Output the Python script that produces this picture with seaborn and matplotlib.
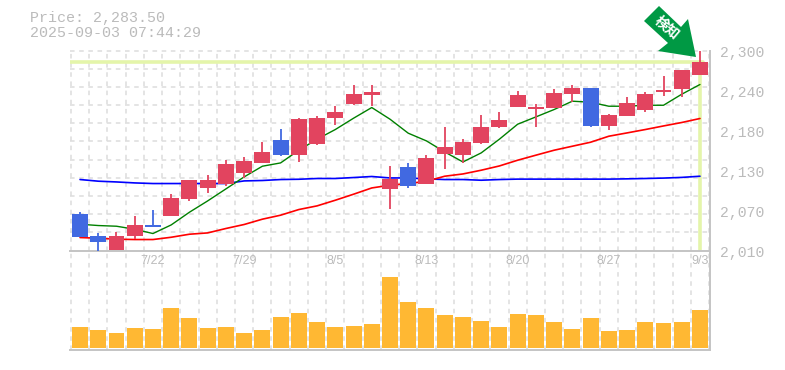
import numpy as np
import pandas as pd
import seaborn as sns
import matplotlib
matplotlib.use("Agg")
import matplotlib.pyplot as plt
from matplotlib.patches import Polygon

# candles
opens = [2062.6, 2030.7, 2010.4, 2030.7, 2046.7, 2059.7, 2084.4, 2100.3, 2106.1, 2122.1, 2136.5, 2169.9,
         2148.2, 2164.1, 2201.8, 2222.1, 2235.2, 2098.9, 2130.7, 2106.1, 2149.6, 2148.2, 2165.6, 2188.8,
         2217.8, 2214.9, 2216.3, 2236.6, 2245.3, 2190.2, 2204.7, 2213.4, 2239.5, 2243.9, 2264.2]
closes = [2029.2, 2022.0, 2030.7, 2046.7, 2043.8, 2085.8, 2111.9, 2111.9, 2135.1, 2139.4, 2152.5, 2148.2,
          2200.4, 2201.8, 2210.5, 2236.6, 2239.5, 2113.4, 2103.2, 2143.8, 2159.7, 2167.0, 2188.8, 2198.9,
          2235.2, 2217.8, 2238.0, 2245.3, 2190.2, 2206.2, 2223.6, 2236.6, 2242.4, 2271.4, 2283.5]
highs = [2065.5, 2035.0, 2036.5, 2059.7, 2068.4, 2091.6, 2111.9, 2119.2, 2140.9, 2145.3, 2167.0, 2185.9,
         2201.8, 2204.7, 2219.2, 2249.7, 2249.7, 2132.2, 2136.5, 2148.2, 2188.8, 2171.4, 2206.2, 2210.5,
         2241.0, 2222.1, 2243.9, 2249.7, 2245.3, 2207.6, 2232.3, 2239.5, 2262.7, 2271.4, 2300.4]
lows = [2029.2, 2010.0, 2010.4, 2026.4, 2043.8, 2059.7, 2081.5, 2093.1, 2103.2, 2114.8, 2136.5, 2146.7,
        2138.0, 2162.6, 2191.7, 2220.6, 2219.2, 2069.9, 2100.3, 2106.1, 2127.8, 2136.5, 2164.1, 2187.3,
        2217.8, 2188.8, 2216.3, 2225.0, 2188.8, 2184.4, 2204.7, 2210.5, 2233.7, 2232.3, 2264.2]

# moving averages
ma_short = [2048.1, 2046.2, 2045.2, 2040.8, 2034.6, 2047.1, 2065.5, 2081.9, 2099.3, 2116.7, 2132.2, 2137.0,
            2155.4, 2171.4, 2185.4, 2201.8, 2217.3, 2200.4, 2180.1, 2168.9, 2152.9, 2138.4, 2151.5, 2171.4,
            2193.1, 2203.7, 2214.4, 2226.5, 2225.0, 2219.2, 2219.2, 2220.6, 2220.6, 2236.6, 2250.7]
ma_mid = [2028.8, 2027.8, 2026.4, 2025.9, 2025.9, 2029.2, 2033.6, 2035.5, 2041.9, 2047.7, 2055.4, 2061.2,
          2069.4, 2074.7, 2082.9, 2091.6, 2100.7, 2104.7, 2107.1, 2110.4, 2117.7, 2121.0, 2126.4, 2132.6,
          2140.9, 2148.2, 2155.4, 2161.2, 2167.0, 2175.7, 2180.5, 2185.4, 2190.6, 2195.6, 2201.4]
ma_long = [2112.9, 2110.5, 2109.4, 2108.0, 2107.1, 2107.1, 2107.1, 2107.1, 2107.1, 2110.9, 2111.5, 2112.9,
           2113.3, 2114.4, 2114.4, 2115.8, 2117.3, 2115.2, 2115.2, 2113.8, 2112.9, 2112.9, 2111.9, 2112.9,
           2113.5, 2113.5, 2113.5, 2113.5, 2113.5, 2113.5, 2113.9, 2114.4, 2115.0, 2116.0, 2117.7]

volumes = [21, 18, 15, 20, 19, 40, 30, 20, 21, 15, 18, 31, 35, 26, 21, 22, 24, 71,
           46, 40, 33, 31, 27, 21, 34, 33, 26, 19, 30, 17, 18, 26, 25, 26, 38]

date_pos = [4, 9, 14, 19, 24, 29, 34]
date_labels = ['7/22', '7/29', '8/5', '8/13', '8/20', '8/27', '9/3']
price_ticks = [2300, 2242, 2184, 2126, 2068, 2010]
price_labels = ['2,300', '2,240', '2,180', '2,130', '2,070', '2,010']
last_price = 2283.5

UP = '#E2445F'
DOWN = '#4169E1'
GRID = '#DDDDDD'
TEXT = '#BBBBBB'
MARK = '#E4F5AA'
AXIS = '#C4C4C4'

W, H = 785, 370
sns.set_theme(style='white')
plt.rcParams['font.family'] = ['Liberation Mono', 'Noto Sans CJK JP', 'DejaVu Sans']

fig = plt.figure(figsize=(W / 100, H / 100), dpi=100)
ax = fig.add_axes([70 / W, 1 - 250.5 / H, 640 / W, 200 / H])
ax2 = fig.add_axes([70 / W, 1 - 350 / H, 640 / W, 99.5 / H], sharex=ax)

df = pd.DataFrame({'i': np.arange(len(opens)), 'open': opens, 'close': closes, 'high': highs, 'low': lows,
                   'short': ma_short, 'mid': ma_mid, 'long': ma_long, 'vol': volumes})
df['color'] = np.where(df['close'] >= df['open'], UP, DOWN)

xlim = (-0.55, 34.55)

# price panel
ax.set_xlim(xlim)
ax.set_ylim(2010, 2300)
grid_x = np.arange(-0.5, 34.6, 1)
for a in (ax, ax2):
    for gx in grid_x:
        a.axvline(gx, color=GRID, lw=1.1, ls=(0, (3, 3)), zorder=0)
for gy in np.linspace(2010, 2300, 12)[1:]:
    ax.axhline(gy, color=GRID, lw=1.1, ls=(0, (3, 3)), zorder=0, clip_on=False)

ax.axhline(last_price, color=MARK, lw=2.6, zorder=1, xmax=(34 - xlim[0]) / (xlim[1] - xlim[0]) + 0.005)
ax.plot([34, 34], [2010, last_price], color=MARK, lw=2.6, zorder=1)

sns.lineplot(data=df, x='i', y='long', color='#0000FF', lw=1.2, ax=ax, zorder=2)
sns.lineplot(data=df, x='i', y='mid', color='#FF0000', lw=1.2, ax=ax, zorder=2)
sns.lineplot(data=df, x='i', y='short', color='#008000', lw=1.0, ax=ax, zorder=2)

ax.vlines(df['i'], df['low'], df['high'], colors=df['color'], lw=1.3, zorder=3)
ax.bar(df['i'], (df['close'] - df['open']).abs(), bottom=df[['open', 'close']].min(axis=1),
       width=0.875, color=df['color'], lw=0, zorder=4)

ax.set_xlabel('')
ax.set_ylabel('')
ax.set_yticks(price_ticks)
ax.set_yticklabels([])
ax.tick_params(axis='y', length=0, right=False, left=False)
ax.tick_params(axis='x', length=0, labelbottom=False)
# price labels sit a little below their own gridline level
for v, lab in zip(price_ticks, price_labels):
    ax.annotate(lab, xy=(1, v), xycoords=ax.get_yaxis_transform(), xytext=(7.2, -1.44),
                textcoords='offset points', fontsize=10.6, color=TEXT, va='center', ha='left')
for s in ['top', 'left']:
    ax.spines[s].set_visible(False)
ax.spines['bottom'].set_color(AXIS)
ax.spines['bottom'].set_linewidth(1.4)
ax.spines['right'].set_color(AXIS)
ax.spines['right'].set_linewidth(1.4)

# volume panel
ax2.bar(df['i'], df['vol'], width=0.875, color='#FFB833', lw=0, zorder=2)
sns.despine(ax=ax2, top=True, left=True, right=False, bottom=False)
ax2.set_ylim(-2, 97.5)
ax2.set_yticks([])
ax2.set_xticks(date_pos)
ax2.set_xticklabels([])
ax2.tick_params(axis='x', length=0)
ax2.set_xlabel('')
ax2.set_ylabel('')
ax2.spines['bottom'].set_color(AXIS)
ax2.spines['bottom'].set_linewidth(1.4)
ax2.spines['right'].set_color(AXIS)
ax2.spines['right'].set_linewidth(1.4)
ax2.patch.set_alpha(0)

# date labels sit inside the top of the volume panel
for p, lab in zip(date_pos, date_labels):
    ax2.text(p, 87, lab, ha='center', va='center', fontsize=9, color=TEXT, zorder=3, family='Liberation Sans')

# header
fig.text(30 / W, 1 - 18 / H, 'Price: 2,283.50', fontsize=10.8, color=TEXT, va='center')
fig.text(30 / W, 1 - 33 / H, '2025-09-03 07:44:29', fontsize=10.8, color=TEXT, va='center')

# green arrow
arrow = [(659, 6), (644, 21), (668, 43), (658, 51), (696, 57), (688, 19), (681, 27)]
fig.add_artist(Polygon([(x / W, 1 - y / H) for x, y in arrow], closed=True, transform=fig.transFigure,
                       facecolor='#009944', edgecolor='none', zorder=5))
fig.text(666.5 / W, 1 - 28 / H, '検知', color='white', fontsize=10, fontweight='bold', rotation=-40,
         rotation_mode='anchor', ha='center', va='center', zorder=6, family=['Noto Sans CJK JP', 'DejaVu Sans'])

fig.savefig('out.png', dpi=100)
